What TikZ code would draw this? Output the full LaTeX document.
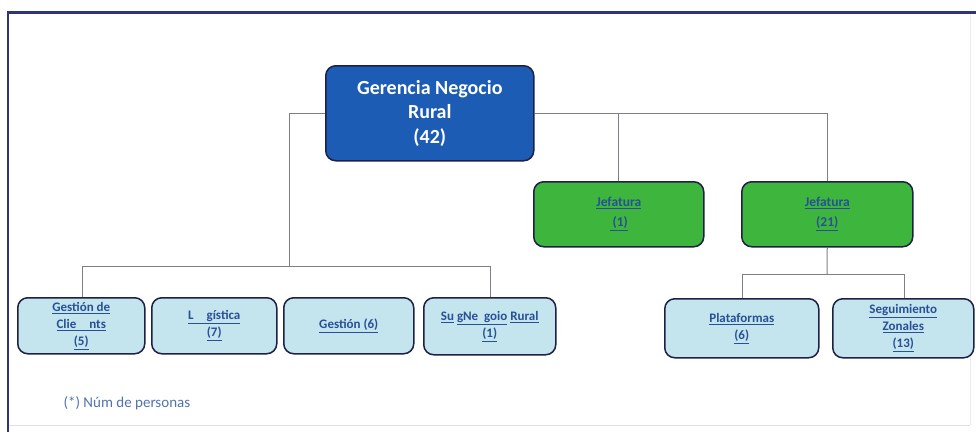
\documentclass[tikz,border=0pt]{standalone}
\usepackage{fontspec}
\setmainfont{Carlito}
\definecolor{topblue}{RGB}{28,92,180}
\definecolor{jefgreen}{RGB}{62,182,62}
\definecolor{lightbox}{RGB}{196,228,238}
\definecolor{navy}{RGB}{30,32,70}
\definecolor{linkblue}{RGB}{40,80,150}
\definecolor{linegray}{RGB}{125,128,140}
\definecolor{frameblue}{RGB}{48,52,120}
\definecolor{notecol}{RGB}{80,115,175}
\tikzset{
  base/.style={rounded corners=10pt, line width=1.5pt, draw=navy, align=center, anchor=north west, inner sep=1pt},
  topbox/.style={base, fill=topblue, text=white, font=\fontsize{20}{24.5}\selectfont\bfseries},
  greenbox/.style={base, fill=jefgreen, text=linkblue, font=\fontsize{13.5}{20}\selectfont\bfseries},
  unitbox/.style={base, fill=lightbox, text=linkblue, font=\fontsize{13}{17}\selectfont\bfseries},
  conn/.style={draw=linegray, line width=1pt}
}
\newcommand{\ul}[1]{\underline{#1}}
\begin{document}
\begin{tikzpicture}[x=1pt,y=-1pt]
\useasboundingbox (0,0) rectangle (976,432);
\fill[white] (0,0) rectangle (976,432);
% frame
\draw[frameblue, line width=2.5pt] (7,12.5) -- (976,12.5);
\draw[frameblue, line width=2.5pt] (8,12) -- (8,432);
\draw[black!12, line width=1pt] (9,425) -- (970,425);
\draw[black!8, line width=1pt] (970,14) -- (970,425);
\coordinate (busTop) at (289,113);
\coordinate (busL) at (82,266);
\coordinate (busR) at (490,266);
\coordinate (mid) at (289,266);
\coordinate (bus2) at (827,274);
\coordinate (bus2L) at (742,274);
\coordinate (bus2R) at (904,274);
% top node
\node[topbox, minimum width=208pt, minimum height=95pt] (g) at (325,65) {Gerencia Negocio\\Rural\\(42)};
% green
\node[greenbox, minimum width=170pt, minimum height=65pt] (j1) at (533,181) {\ul{Jefatura}\\\ul{\ (1)}};
\node[greenbox, minimum width=171pt, minimum height=65pt] (j2) at (741,181) {\ul{Jefatura}\\\ul{(21)}};
% light boxes
\node[unitbox, minimum width=127pt, minimum height=56pt] (b1) at (17,297) {\ul{Gestión de}\\\ul{Clie\quad nts}\\\ul{(5)}};
\node[unitbox, minimum width=125pt, minimum height=56pt] (b2) at (151,297) {\ul{L\quad gística}\\\ul{(7)}};
\node[unitbox, minimum width=130pt, minimum height=56pt] (b3) at (283,297) {\ul{Gestión (6)}};
\node[unitbox, minimum width=132pt, minimum height=57pt] (b4) at (423,297) {\ul{Su} \ul{gNe\ \ goio} \ul{Rural}\\\ul{(1)}};
\node[unitbox, minimum width=154pt, minimum height=59pt] (p) at (664,298) {\ul{Plataformas}\\\ul{(6)}};
\node[unitbox, minimum width=141pt, minimum height=59pt] (s) at (832,298) {\ul{Seguimiento}\\\ul{Zonales}\\\ul{(13)}};
% connectors
\draw[conn] (g.west |- busTop) -- (busTop) -- (mid);
\draw[conn] (g.east |- busTop) -- (j2.north |- busTop) -- (j2.north);
\draw[conn] (j1.north |- busTop) -- (j1.north);
\draw[conn] (busL) -- (busR);
\draw[conn] (busL) -- (b1.north -| busL);
\draw[conn] (busR) -- (b4.north -| busR);
\draw[conn] (j2.south) -- (bus2);
\draw[conn] (bus2L) -- (bus2R);
\draw[conn] (bus2L) -- (p.north -| bus2L);
\draw[conn] (bus2R) -- (s.north -| bus2R);
% note
\node[anchor=west, text=notecol, font=\fontsize{15}{17}\selectfont] (note) at (60,403) {(*) Núm de personas};
\end{tikzpicture}
\end{document}
